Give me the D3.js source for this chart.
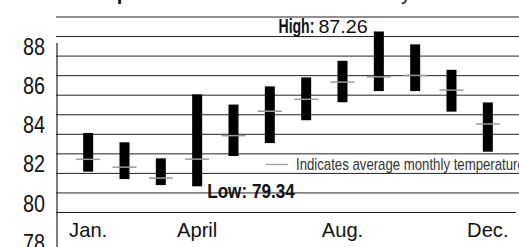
<!DOCTYPE html>
<html>
<head>
<meta charset="utf-8">
<script src="https://cdn.jsdelivr.net/npm/d3@7"></script>
<style>
  html, body { margin: 0; padding: 0; background: #fff; overflow: hidden; }
  svg { display: block; font-family: "Liberation Sans", Arial, sans-serif; }
</style>
</head>
<body>
<div id="chart"></div>
<script>
// Datos
const months = ["Jan", "Feb", "Mar", "Apr", "May", "Jun", "Jul", "Aug", "Sep", "Oct", "Nov", "Dec"];
const monthLabels = ["Jan.", "", "", "April", "", "", "", "Aug.", "", "", "", "Dec."];
const highs = [82.07, 81.59, 80.77, 84.04, 83.52, 84.45, 84.91, 85.76, 87.26, 86.6, 85.3, 83.63];
const lows = [80.09, 79.71, 79.4, 79.34, 80.89, 81.55, 82.72, 83.64, 84.21, 84.21, 83.16, 81.11];
const avgs = [80.72, 80.32, 79.76, 80.73, 81.93, 83.18, 83.79, 84.67, 84.94, 85.01, 84.26, 82.53];
const gridValues = [88, 87, 86, 85, 84, 83, 82, 81, 80, 79, 78];
const tickLabels = ["88", "86", "84", "82", "80", "78"];

const width = 519, height = 247;

const svg = d3.select("#chart")
  .append("svg")
    .attr("width", width)
    .attr("height", height);

// Escalas
const x = d3.scaleBand()
  .domain(months)
  .range([70, 506]);

const y = d3.scaleLinear()
  .domain([78, 88])
  .range([212.5, 17]);

const xc = m => x(m) + x.bandwidth() / 2;

// Fuente estrecha simulada: escala horizontal del texto y anclaje manual.
// Devuelve la posición x del borde izquierdo ya comprimido.
function squeeze(sel, factor, anchor = "start") {
  sel.each(function() {
    const t = d3.select(this);
    const w = this.getComputedTextLength() * factor;
    const x0 = +t.attr("x"), y0 = +t.attr("y");
    const shift = anchor === "end" ? w : anchor === "middle" ? w / 2 : 0;
    t.attr("text-anchor", "start")
      .attr("x", 0)
      .attr("y", 0)
      .attr("data-left", x0 - shift)
      .attr("transform", `translate(${x0 - shift},${y0}) scale(${factor},1)`);
  });
}

// Título (casi fuera de la vista)
svg.append("text")
  .attr("x", 77)
  .attr("y", 0)
  .attr("fill", "#111")
  .style("font-size", "20px")
  .style("font-weight", "bold")
  .text("Temperatures");

svg.append("text")
  .attr("x", 411)
  .attr("y", 0)
  .attr("text-anchor", "end")
  .attr("fill", "#111")
  .style("font-size", "20px")
  .text("recorded monthly");

// Líneas horizontales
svg.selectAll(".grid")
  .data(gridValues)
  .enter()
  .append("line")
  .attr("class", "grid")
  .attr("x1", 56)
  .attr("x2", d => d === 78 ? 516 : width)
  .attr("y1", d => y(d))
  .attr("y2", d => y(d))
  .attr("stroke", "#222")
  .attr("stroke-width", 1);

// Eje vertical
svg.append("line")
  .attr("x1", 57)
  .attr("x2", 57)
  .attr("y1", 43)
  .attr("y2", height)
  .attr("stroke", "#222")
  .attr("stroke-width", 1.2);

// Etiquetas del eje Y (desplazadas como en el original)
svg.selectAll(".ytick")
  .data(tickLabels)
  .enter()
  .append("text")
  .attr("class", "ytick")
  .attr("x", 45)
  .attr("y", d => y(+d - 2) - 1)
  .attr("fill", "#111")
  .style("font-size", "23px")
  .text(d => d)
  .call(squeeze, 0.86, "end");

// Etiquetas de meses
svg.selectAll(".xtick")
  .data(months.filter((m, i) => monthLabels[i]))
  .enter()
  .append("text")
  .attr("class", "xtick")
  .attr("x", d => xc(d))
  .attr("y", 237)
  .attr("fill", "#111")
  .style("font-size", "21px")
  .text(d => monthLabels[months.indexOf(d)])
  .call(squeeze, 0.96, "middle");

// Barras alto/bajo
svg.selectAll(".bar")
  .data(months)
  .enter()
  .append("rect")
  .attr("class", "bar")
  .attr("x", d => xc(d) - 5)
  .attr("width", 10)
  .attr("y", (d, i) => y(highs[i]))
  .attr("height", (d, i) => y(lows[i]) - y(highs[i]))
  .attr("fill", "#000");

// Marcas de promedio
svg.selectAll(".avg")
  .data(months)
  .enter()
  .append("line")
  .attr("class", "avg")
  .attr("x1", d => xc(d) - 12)
  .attr("x2", d => xc(d) + 12)
  .attr("y1", (d, i) => y(avgs[i]))
  .attr("y2", (d, i) => y(avgs[i]))
  .attr("stroke", "#999")
  .attr("stroke-width", 1.5);

// Anotación máximo: valor normal y "High:" en negrita estrecha
const hiIdx = highs.indexOf(d3.max(highs));
const hiVal = svg.append("text")
  .attr("x", xc(months[hiIdx]) - 11)
  .attr("y", y(highs[hiIdx]) + 2)
  .attr("fill", "#111")
  .style("font-size", "19px")
  .text(highs[hiIdx])
  .call(squeeze, 1.04, "end");

svg.append("text")
  .attr("x", +hiVal.attr("data-left") - 4)
  .attr("y", y(highs[hiIdx]) + 2)
  .attr("fill", "#111")
  .style("font-size", "19.5px")
  .style("font-weight", "bold")
  .text("High:")
  .call(squeeze, 0.72, "end");

// Anotación mínimo
const loIdx = lows.indexOf(d3.min(lows));
svg.append("text")
  .attr("x", xc(months[loIdx]) + 10)
  .attr("y", y(lows[loIdx]) + 12)
  .attr("fill", "#111")
  .style("font-size", "19.5px")
  .style("font-weight", "bold")
  .text("Low: " + lows[loIdx])
  .call(squeeze, 0.88);

// Leyenda
svg.append("line")
  .attr("x1", 266)
  .attr("x2", 288)
  .attr("y1", 164.5)
  .attr("y2", 164.5)
  .attr("stroke", "#999")
  .attr("stroke-width", 1.2);

svg.append("text")
  .attr("x", 296)
  .attr("y", 170)
  .attr("fill", "#333")
  .style("font-size", "16px")
  .text("Indicates average monthly temperature")
  .call(squeeze, 0.825);
</script>
</body>
</html>
